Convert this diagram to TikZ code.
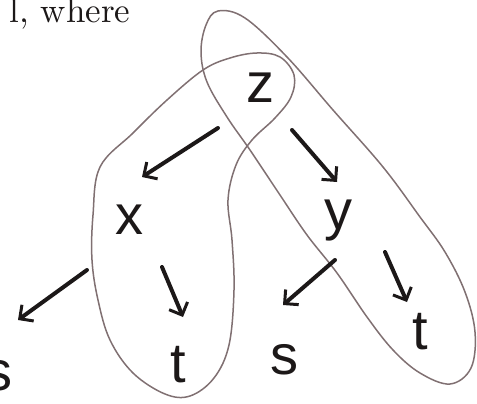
\documentclass[tikz,border=0pt]{standalone}
\usepackage{fontspec}
\newfontfamily\handfont{Liberation Sans}
\usetikzlibrary{arrows.meta}
\definecolor{loopcol}{RGB}{128,112,114}
\definecolor{inkcol}{RGB}{28,24,24}
\tikzset{
  letter/.style={font=\handfont\fontsize{56}{56}\selectfont, text=inkcol, inner sep=0pt},
  arr/.style={draw=inkcol, line width=4pt, line cap=round,
    -{Straight Barb[length=10pt,width=20pt,line width=3pt]}},
  loopline/.style={draw=loopcol, line width=1.5pt},
  headtext/.style={anchor=base east, inner sep=0pt, text=inkcol, scale=3.5, transform shape}
}
\begin{document}
\begin{tikzpicture}[x=1pt,y=-1pt]
\useasboundingbox (0,0) rectangle (477,404);
\node[headtext] (head) at (131,23) {l, where};
% loops
\draw[loopline] plot[smooth cycle, tension=0.6] coordinates {
  (100,167) (133,133) (167,100) (203,70) (230,58) (257,53) (280,57) (294,75) (291,97)
  (275,118) (252,140) (236,165) (228,200) (232,240) (234,290) (229,345) (214,378)
  (190,396) (165,394) (133,373) (110,340) (98,300) (92,260) (93,215)};
\draw[loopline] plot[smooth cycle, tension=0.6] coordinates {
  (218,11) (245,18) (287,57) (333,110) (383,167) (420,217) (445,252) (465,292)
  (475,332) (471,368) (450,384) (420,373) (393,350) (367,317) (337,273) (307,235)
  (280,195) (250,150) (227,117) (207,82) (201,52) (206,25)};
% letters
\node[letter] (z) at (260,88) {z};
\node[letter] (x) at (129,220) {x};
\node[letter] (y) at (338,221) {y};
\node[letter] (sL) at (-2,376) {s};
\node[letter] (tL) at (178,365) {t};
\node[letter] (sM) at (284,360) {s};
\node[letter] (tR) at (420,332) {t};
% arrows
\draw[arr] ([shift={(-42,40)}]z.center) -- ([shift={(13,-43)}]x.center);
\draw[arr] ([shift={(32,42)}]z.center) -- ([shift={(-1,-39)}]y.center);
\draw[arr] ([shift={(-42,50)}]x.center) -- ([shift={(20,-56)}]sL.center);
\draw[arr] ([shift={(33,47)}]x.center) -- ([shift={(5,-48)}]tL.center);
\draw[arr] ([shift={(-3,39)}]y.center) -- ([shift={(-1,-55)}]sM.center);
\draw[arr] ([shift={(47,31)}]y.center) -- ([shift={(-13,-30)}]tR.center);
\end{tikzpicture}
\end{document}
